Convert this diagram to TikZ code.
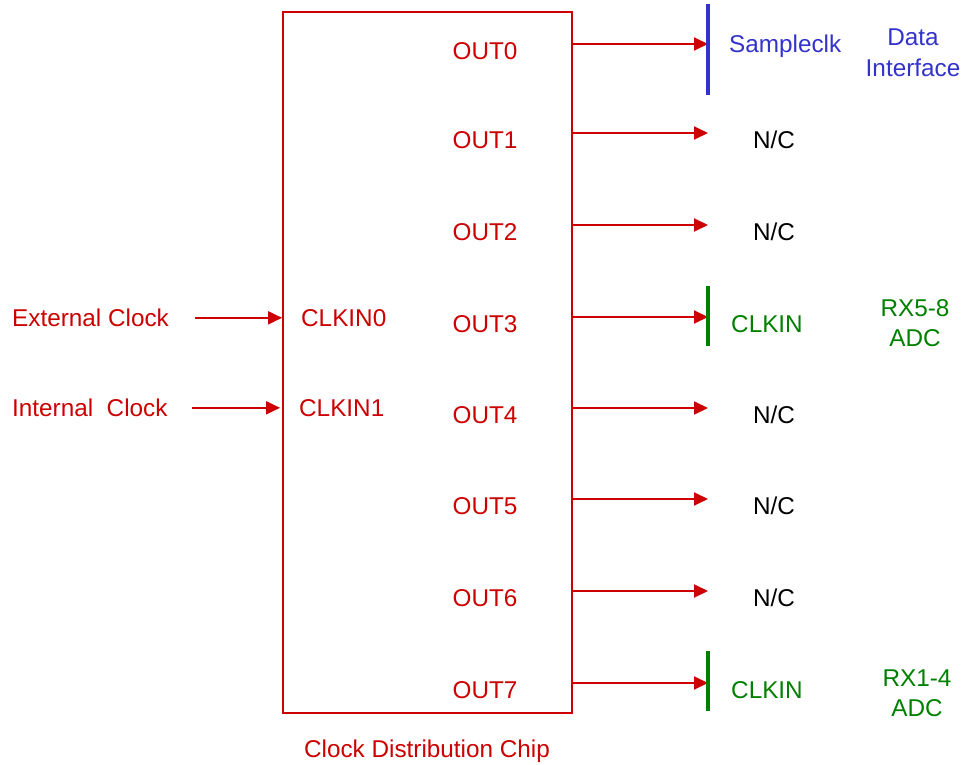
\documentclass[tikz,border=0pt]{standalone}
\usepackage{fontspec}
\setmainfont{Liberation Sans}
\usetikzlibrary{arrows.meta}
\definecolor{rouge}{RGB}{204,0,0}
\definecolor{bleu}{RGB}{51,51,204}
\definecolor{vert}{RGB}{0,128,0}

\begin{document}
\begin{tikzpicture}[x=1pt,y=-1pt]
\tikzstyle{lien}=[-{Triangle[length=14pt,width=13pt]},line width=1.9pt,draw=rouge]
\tikzstyle{barre}=[line width=3.2pt]
\tikzset{texte/.style={text=#1,font=\fontsize{24.3}{30}\selectfont,inner sep=0pt},
texte/.default={rouge}}
\useasboundingbox (0,0) rectangle (966,765);

\node[draw=rouge,line width=1.9pt,minimum width=289pt,minimum height=701pt,inner sep=0pt] (chip) at (427.5,362.5) {};
\node[texte,anchor=base] (nom) at (427,757.5) {Clock Distribution Chip};

% entrees
\node[texte,anchor=base west] (ext) at (12,326.5) {External Clock};
\node[texte,anchor=base west] (int) at (12,416.5) {Internal\ \ Clock};
\node[texte,anchor=base west] (clk0) at (301,326.5) {CLKIN0};
\node[texte,anchor=base west] (clk1) at (299,416.5) {CLKIN1};
\draw[lien] ([xshift=26pt]ext.east) -- (ext.east -| chip.west);
\draw[lien] ([xshift=24pt]int.east) -- ([xshift=-2pt]int.east -| chip.west);

% sorties
\foreach \i/\y in {0/44,1/133,2/225,3/317,4/408,5/499,6/591,7/683}{
\coordinate (c\i) at (708,\y);
\node[texte,anchor=base] (out\i) at (485,\y+15.5) {OUT\i};
\draw[lien] (chip.east |- c\i) -- (c\i);
}

% Data Interface
\draw[barre,draw=bleu] (708,4) -- (708,95);
\node[texte=bleu,anchor=base west] (samp) at (729,53) {Sampleclk};
\node[texte=bleu,align=center] (data) at (913,52.5) {Data\\[1pt]Interface};

% ADC
\draw[barre,draw=vert] (708,286) -- (708,346);
\draw[barre,draw=vert] (708,651) -- (708,711);
\node[texte=vert,anchor=base west] (clkA) at (731,332.5) {CLKIN};
\node[texte=vert,anchor=base west] (clkB) at (731,698.5) {CLKIN};
\node[texte=vert,align=center] (rx58) at (915,323) {RX5-8\\ADC};
\node[texte=vert,align=center] (rx14) at (917,693) {RX1-4\\ADC};

% non connectees
\foreach \y in {133,225,408,499,591}{
\node[texte=black,anchor=base] at (774,\y+15.5) {N/C};
}

\end{tikzpicture}
\end{document}
